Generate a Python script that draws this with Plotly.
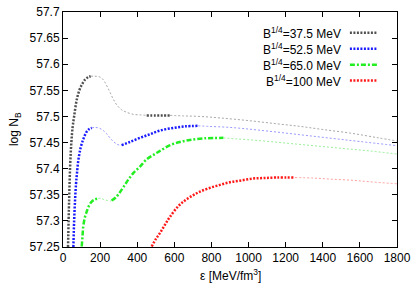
import plotly.graph_objects as go

# ---------------- data ----------------
# B^1/4 = 37.5 MeV
k_thick1_x = [27, 33, 39, 45, 52, 60, 74, 90, 105, 120, 135, 149]
k_thick1_y = [57.25, 57.34, 57.41, 57.45, 57.48, 57.50, 57.532, 57.552, 57.563, 57.571, 57.575, 57.577]
k_thin1_x = [149, 172, 195, 210, 225, 240, 255, 271, 290, 315, 343, 380, 415, 451]
k_thin1_y = [57.577, 57.577, 57.576, 57.573, 57.566, 57.556, 57.545, 57.533, 57.522, 57.513, 57.508, 57.504, 57.503, 57.502]
k_thick2_x = [451, 500, 540, 577]
k_thick2_y = [57.502, 57.502, 57.502, 57.502]
k_thin2_x = [577, 650, 738, 850, 1000, 1150, 1277, 1400, 1550, 1700, 1800]
k_thin2_y = [57.502, 57.501, 57.5, 57.497, 57.492, 57.486, 57.481, 57.475, 57.468, 57.459, 57.453]

# B^1/4 = 52.5 MeV
b_thick1_x = [56, 60, 65, 70, 75, 83, 95, 110, 128, 142, 155]
b_thick1_y = [57.25, 57.30, 57.34, 57.37, 57.39, 57.417, 57.44, 57.457, 57.471, 57.476, 57.478]
b_thin1_x = [155, 175, 199, 217, 235, 253, 271, 290, 305, 316]
b_thin1_y = [57.478, 57.479, 57.477, 57.473, 57.467, 57.459, 57.452, 57.447, 57.445, 57.445]
b_thick2_x = [316, 360, 415, 469, 523, 594, 660, 729]
b_thick2_y = [57.445, 57.451, 57.459, 57.466, 57.473, 57.478, 57.481, 57.482]
b_thin2_x = [729, 783, 900, 1050, 1277, 1450, 1600, 1800]
b_thin2_y = [57.482, 57.481, 57.479, 57.474, 57.465, 57.458, 57.452, 57.444]

# B^1/4 = 65.0 MeV
g_thick1_x = [101, 105, 109, 118, 128, 140, 155, 172, 190]
g_thick1_y = [57.251, 57.27, 57.289, 57.307, 57.318, 57.329, 57.337, 57.341, 57.343]
g_thin1_x = [190, 205, 220, 240, 255, 262]
g_thin1_y = [57.343, 57.343, 57.341, 57.339, 57.338, 57.339]
g_thick2_x = [262, 285, 307, 330, 352, 380, 415, 451, 490, 523, 577, 630, 684, 760, 864]
g_thick2_y = [57.339, 57.345, 57.355, 57.367, 57.379, 57.392, 57.404, 57.418, 57.427, 57.434, 57.445, 57.451, 57.455, 57.458, 57.459]
g_thin2_x = [864, 936, 1050, 1200, 1350, 1500, 1650, 1800]
g_thin2_y = [57.459, 57.457, 57.454, 57.449, 57.444, 57.439, 57.434, 57.428]

# B^1/4 = 100 MeV
r_thick_x = [478, 500, 523, 550, 577, 621, 657, 700, 738, 790, 846, 900, 954, 1020, 1079, 1150, 1250]
r_thick_y = [57.251, 57.265, 57.277, 57.293, 57.308, 57.328, 57.339, 57.349, 57.356, 57.363, 57.369, 57.374, 57.377, 57.381, 57.382, 57.383, 57.383]
r_thin_x = [1250, 1350, 1439, 1550, 1650, 1800]
r_thin_y = [57.383, 57.382, 57.380, 57.378, 57.375, 57.371]

labels = ["B<sup>1/4</sup>=37.5 MeV", "B<sup>1/4</sup>=52.5 MeV",
          "B<sup>1/4</sup>=65.0 MeV", "B<sup>1/4</sup>=100 MeV"]

x_ticks = [0, 200, 400, 600, 800, 1000, 1200, 1400, 1600, 1800]
y_ticks = [57.25, 57.3, 57.35, 57.4, 57.45, 57.5, 57.55, 57.6, 57.65, 57.7]
y_ticktext = ["57.25", "57.3", "57.35", "57.4", "57.45", "57.5", "57.55", "57.6", "57.65", "57.7"]

# ---------------- styles ----------------
thick_dot = "2px,1.5px"
thick_dashdot = "5px,2px,2px,2px"
thin_dot = "2px,2px"

styles = [
    dict(thick="#505050", thin="#a8a8a8", dash=thick_dot),
    dict(thick="#1a1aff", thin="#9a9aff", dash=thick_dot),
    dict(thick="#22ee22", thin="#99f099", dash=thick_dashdot),
    dict(thick="#ff1a1a", thin="#ff9f9f", dash=thick_dot),
]

series = [
    ([(k_thick1_x, k_thick1_y), (k_thick2_x, k_thick2_y)], [(k_thin1_x, k_thin1_y), (k_thin2_x, k_thin2_y)]),
    ([(b_thick1_x, b_thick1_y), (b_thick2_x, b_thick2_y)], [(b_thin1_x, b_thin1_y), (b_thin2_x, b_thin2_y)]),
    ([(g_thick1_x, g_thick1_y), (g_thick2_x, g_thick2_y)], [(g_thin1_x, g_thin1_y), (g_thin2_x, g_thin2_y)]),
    ([(r_thick_x, r_thick_y)], [(r_thin_x, r_thin_y)]),
]

fig = go.Figure()
for (thicks, thins), st in zip(series, styles):
    for xs, ys in thins:
        fig.add_trace(go.Scatter(x=xs, y=ys, mode="lines", line_shape="spline",
                                 line=dict(color=st["thin"], width=1, dash=thin_dot),
                                 showlegend=False, hoverinfo="skip"))
    for xs, ys in thicks:
        fig.add_trace(go.Scatter(x=xs, y=ys, mode="lines", line_shape="spline",
                                 line=dict(color=st["thick"], width=2.5, dash=st["dash"]),
                                 showlegend=False, hoverinfo="skip"))

FONT = "Liberation Sans, Arial, sans-serif"

# ---------------- gnuplot-like key (text left of sample) ----------------
key_rows = [0.912, 0.844, 0.776, 0.708]
for lab, st, yy in zip(labels, styles, key_rows):
    fig.add_annotation(x=0.838, y=yy, xref="paper", yref="paper", text=lab,
                       showarrow=False, xanchor="right", yanchor="middle",
                       font=dict(family=FONT, size=12, color="black"))
    fig.add_shape(type="line", xref="paper", yref="paper", x0=0.859, x1=0.94, y0=yy, y1=yy,
                  line=dict(color=st["thick"], width=2.5, dash=st["dash"]))

# axis titles
fig.add_annotation(x=-0.145, y=0.5, xref="paper", yref="paper", text="log N<sub>B</sub>",
                   textangle=-90, showarrow=False, xanchor="center", yanchor="middle",
                   font=dict(family=FONT, size=12, color="black"))
fig.add_annotation(x=0.5, y=-0.118, xref="paper", yref="paper", text="ε [MeV/fm<sup>3</sup>]",
                   showarrow=False, xanchor="center", yanchor="middle",
                   font=dict(family=FONT, size=12, color="black"))

axis_common = dict(showgrid=False, zeroline=False, showline=True, linecolor="black", linewidth=1,
                   mirror="ticks", ticks="inside", ticklen=5, tickcolor="black", automargin=False,
                   ticklabeloverflow="allow",
                   tickfont=dict(family=FONT, size=12, color="black"))

fig.update_xaxes(range=[0, 1800], tickvals=x_ticks, **axis_common)
fig.update_yaxes(range=[57.25, 57.7], tickvals=y_ticks, ticktext=y_ticktext, **axis_common)

fig.update_layout(width=415, height=291, margin=dict(l=63, r=18, t=12, b=44, autoexpand=False),
                  paper_bgcolor="white", plot_bgcolor="white",
                  font=dict(family=FONT, size=12, color="black"))

# remove the browser's default 8px page margin so the figure fills the window exactly
fig.write_html("out.html", config={"displayModeBar": False},
               post_script="document.body.style.margin='0';document.body.style.overflow='hidden';")
